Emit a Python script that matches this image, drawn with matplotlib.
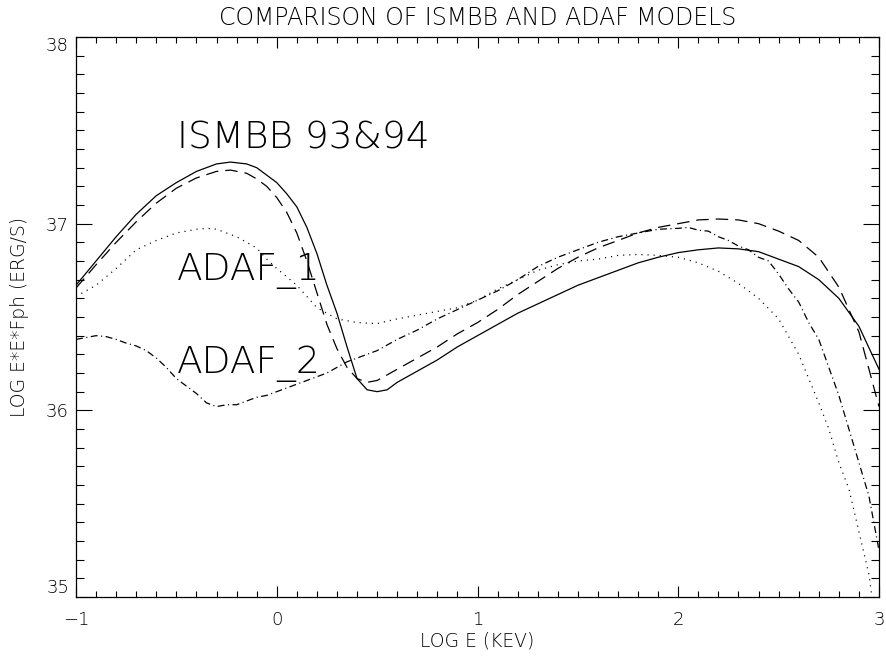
import matplotlib
matplotlib.use("Agg")
import matplotlib.pyplot as plt
from matplotlib.ticker import MultipleLocator

# ---- data ----
x_ismbb93 = [-1.0, -0.9, -0.8, -0.7, -0.6, -0.5, -0.4, -0.3, -0.23, -0.15, -0.1, -0.05,
             0.0, 0.05, 0.1, 0.15, 0.2, 0.25, 0.3, 0.35, 0.4, 0.45, 0.5, 0.55, 0.6, 0.7,
             0.8, 0.9, 1.0, 1.1, 1.2, 1.3, 1.4, 1.5, 1.6, 1.7, 1.8, 1.9, 2.0, 2.1, 2.2,
             2.3, 2.4, 2.5, 2.6, 2.7, 2.8, 2.9, 3.0]
y_ismbb93 = [36.67, 36.80, 36.93, 37.05, 37.15, 37.22, 37.28, 37.32, 37.33, 37.32, 37.30, 37.26,
             37.22, 37.16, 37.09, 36.98, 36.84, 36.67, 36.52, 36.34, 36.17, 36.11, 36.10, 36.11, 36.15, 36.21,
             36.27, 36.34, 36.40, 36.46, 36.52, 36.57, 36.62, 36.67, 36.71, 36.75, 36.79, 36.82, 36.845, 36.86, 36.87,
             36.865, 36.85, 36.81, 36.77, 36.70, 36.60, 36.45, 36.22]

x_ismbb94 = [-1.0, -0.9, -0.8, -0.7, -0.6, -0.5, -0.4, -0.3, -0.23, -0.15, -0.1, -0.05,
             0.0, 0.05, 0.1, 0.15, 0.2, 0.25, 0.3, 0.35, 0.4, 0.45, 0.5, 0.6, 0.7, 0.8,
             0.9, 1.0, 1.1, 1.2, 1.3, 1.4, 1.5, 1.6, 1.7, 1.8, 1.9, 2.0, 2.1, 2.2, 2.3,
             2.4, 2.5, 2.6, 2.7, 2.8, 2.9, 2.95, 3.0]
y_ismbb94 = [36.655, 36.78, 36.90, 37.01, 37.11, 37.19, 37.245, 37.28, 37.287, 37.27, 37.24, 37.20,
             37.14, 37.06, 36.95, 36.80, 36.63, 36.46, 36.33, 36.23, 36.17, 36.15, 36.16, 36.22, 36.28, 36.34,
             36.41, 36.47, 36.54, 36.62, 36.69, 36.76, 36.82, 36.87, 36.91, 36.95, 36.98, 37.00, 37.02, 37.025, 37.02,
             37.00, 36.96, 36.91, 36.82, 36.66, 36.42, 36.22, 36.02]

x_adaf1 = [-1.0, -0.9, -0.8, -0.7, -0.6, -0.5, -0.4, -0.35, -0.3, -0.2, -0.1, -0.05,
           0.0, 0.1, 0.2, 0.3, 0.4, 0.5, 0.6, 0.7, 0.8, 0.9, 1.0, 1.1, 1.2, 1.3, 1.4,
           1.5, 1.6, 1.7, 1.8, 1.9, 2.0, 2.1, 2.2, 2.3, 2.4, 2.5, 2.6, 2.65, 2.7, 2.75,
           2.8, 2.85, 2.9, 2.95, 2.965]
y_adaf1 = [36.61, 36.67, 36.76, 36.86, 36.91, 36.95, 36.97, 36.975, 36.97, 36.93, 36.87, 36.81,
           36.76, 36.67, 36.55, 36.49, 36.47, 36.465, 36.49, 36.51, 36.53, 36.55, 36.59, 36.65, 36.70, 36.75, 36.78,
           36.80, 36.81, 36.83, 36.835, 36.83, 36.82, 36.79, 36.745, 36.68, 36.60, 36.49, 36.30, 36.17, 36.04, 35.90,
           35.72, 35.58, 35.35, 35.12, 35.0]

x_adaf2 = [-1.0, -0.95, -0.9, -0.85, -0.8, -0.75, -0.7, -0.65, -0.6, -0.55, -0.5, -0.45,
           -0.4, -0.35, -0.3, -0.25, -0.2, -0.15, -0.1, -0.05, 0.0, 0.05, 0.1, 0.15, 0.2,
           0.25, 0.3, 0.35, 0.4, 0.45, 0.5, 0.6, 0.7, 0.8, 0.9, 1.0, 1.1, 1.2, 1.3, 1.4,
           1.5, 1.6, 1.7, 1.8, 1.9, 2.0, 2.05, 2.1, 2.15, 2.2, 2.25, 2.3, 2.35, 2.4, 2.45,
           2.5, 2.55, 2.6, 2.65, 2.7, 2.75, 2.8, 2.85, 2.9, 2.95, 3.0]
y_adaf2 = [36.38, 36.39, 36.40, 36.395, 36.38, 36.36, 36.345, 36.32, 36.28, 36.23, 36.17, 36.13,
           36.09, 36.04, 36.02, 36.03, 36.03, 36.05, 36.07, 36.08, 36.10, 36.12, 36.14, 36.16, 36.18,
           36.20, 36.23, 36.26, 36.28, 36.30, 36.32, 36.38, 36.43, 36.49, 36.54, 36.59, 36.64, 36.70, 36.77, 36.82,
           36.86, 36.90, 36.93, 36.95, 36.97, 36.975, 36.98, 36.965, 36.96, 36.93, 36.91, 36.88, 36.86, 36.82, 36.80,
           36.73, 36.65, 36.58, 36.47, 36.38, 36.23, 36.08, 35.90, 35.72, 35.54, 35.25]

x_ticks = [-1, 0, 1, 2, 3]
x_ticklabels = ["\u22121", "0", "1", "2", "3"]
y_ticks = [35, 36, 37, 38]
y_ticklabels = ["35", "36", "37", "38"]

title = "COMPARISON OF ISMBB AND ADAF MODELS"
xlabel = "LOG E (KEV)"
ylabel = "LOG E*E*Fph (ERG/S)"
annotations = [("ISMBB 93&94", -0.497, 37.405),
               ("ADAF_1", -0.497, 36.698),
               ("ADAF_2", -0.497, 36.20)]

# ---- figure ----
plt.rcParams['font.family'] = ['DejaVu Sans']
plt.rcParams['lines.scale_dashes'] = False
FW = 'light'

fig = plt.figure(figsize=(8.86, 6.6), dpi=100)
ax = fig.add_axes([76/886, 1-597/660, 803/886, 560/660])

lw = 0.9
ax.plot(x_ismbb93, y_ismbb93, color='black', lw=lw, linestyle='-')
ax.plot(x_ismbb94, y_ismbb94, color='black', lw=lw, linestyle=(0, (9, 5)))
ax.plot(x_adaf1, y_adaf1, color='black', lw=lw, linestyle=(0, (0.8, 3.6)))
ax.plot(x_adaf2, y_adaf2, color='black', lw=lw, linestyle=(0, (5, 2.5, 0.8, 2.5)))

for txt, xx, yy in annotations:
    ax.text(xx, yy, txt, fontsize=27, fontweight=FW, ha='left', va='baseline')

ax.set_xlim(-1, 3)
ax.set_ylim(35, 38)
ax.set_xticks(x_ticks)
ax.set_xticklabels(x_ticklabels)
ax.set_yticks(y_ticks)
ax.set_yticklabels(y_ticklabels)
ax.xaxis.set_minor_locator(MultipleLocator(0.1))
ax.yaxis.set_minor_locator(MultipleLocator(0.1))
ax.tick_params(axis='x', which='major', direction='in', length=8, width=0.8,
               top=True, bottom=True, labelsize=13, pad=10)
ax.tick_params(axis='x', which='minor', direction='in', length=4.3, width=0.8,
               top=True, bottom=True)
ax.tick_params(axis='y', which='major', direction='in', length=11.3, width=0.8,
               left=True, right=True, labelsize=13, pad=5)
ax.tick_params(axis='y', which='minor', direction='in', length=5.8, width=0.8,
               left=True, right=True)
for lab in ax.get_xticklabels() + ax.get_yticklabels():
    lab.set_fontweight(FW)
ylabs = ax.get_yticklabels()
ylabs[0].set_va('bottom')
ylabs[-1].set_va('top')

for sp in ax.spines.values():
    sp.set_linewidth(0.9)

ax.set_xlabel(xlabel, fontsize=13.5, fontweight=FW)
ax.xaxis.set_label_coords(0.5, -0.078)
ax.xaxis.label.set_va('center')
ax.set_ylabel(ylabel, fontsize=13.5, fontweight=FW)
ax.yaxis.set_label_coords(-0.07, 0.5)
ax.yaxis.label.set_va('center')

ax.text(0.5, 1.034, title, transform=ax.transAxes, ha='center', va='center',
        fontsize=17, fontweight=FW)

fig.savefig("out.png", dpi=100)
